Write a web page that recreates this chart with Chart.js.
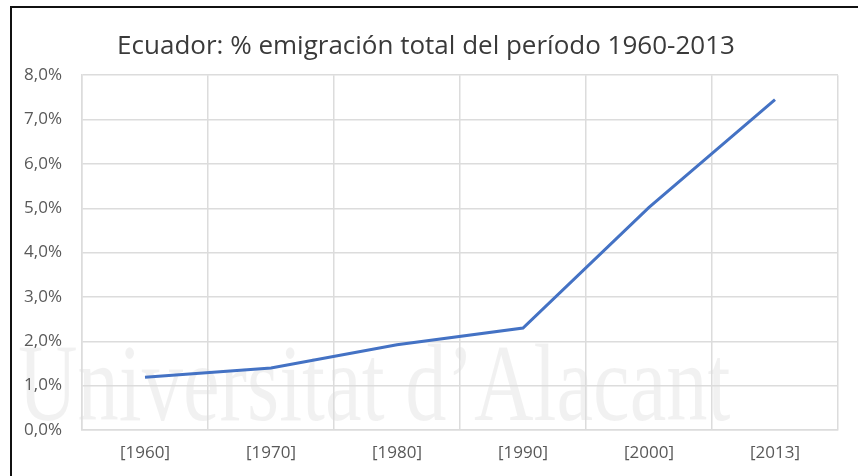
<!DOCTYPE html>
<html>
<head>
<meta charset="utf-8">
<script src="https://cdn.jsdelivr.net/npm/chart.js@4.4.1/dist/chart.umd.min.js"></script>
<style>
  html, body { margin: 0; padding: 0; background: #ffffff; }
  #wrap { position: relative; width: 858px; height: 476px; overflow: hidden; }
  #wm { position: absolute; left: 18px; top: 318px; font-family: "Liberation Serif", "DejaVu Serif", serif;
        font-size: 110px; line-height: 130px; color: rgba(0,0,0,0.055); white-space: nowrap;
        transform: scaleX(0.75); transform-origin: 0 0; }
  #frame { position: absolute; left: 10px; top: 6px; width: 900px; height: 500px;
           border-left: 2px solid #111; border-top: 2px solid #111; pointer-events: none; }
  canvas { position: absolute; left: 0; top: 0; }
</style>
</head>
<body>
<div id="wrap">
  <div id="wm">Universitat d’Alacant</div>
  <canvas id="c" width="858" height="476"></canvas>
  <div id="frame"></div>
</div>
<script>
const titleText = "Ecuador: % emigración total del período 1960-2013";
const categories = ["[1960]", "[1970]", "[1980]", "[1990]", "[2000]", "[2013]"];
const emigrationPct = [1.19, 1.40, 1.92, 2.30, 5.02, 7.45];
const yTicks = [0, 1, 2, 3, 4, 5, 6, 7, 8];

const gridColor = "#dcdcdc";
const labelColor = "#595959";
const fontFamily = "'Open Sans', 'Noto Sans', sans-serif";

new Chart(document.getElementById("c"), {
  type: "line",
  data: {
    labels: categories,
    datasets: [{
      data: emigrationPct,
      borderColor: "#4472C4",
      borderWidth: 3,
      pointRadius: 0,
      tension: 0,
      fill: false
    }]
  },
  options: {
    responsive: false,
    animation: false,
    devicePixelRatio: 1,
    layout: { padding: { left: 14, right: 20, top: 0, bottom: 0 } },
    plugins: {
      legend: { display: false },
      tooltip: { enabled: false },
      title: {
        display: true,
        text: titleText,
        color: "#3a3a3a",
        font: { family: fontFamily, size: 26, weight: "normal" },
        padding: { top: 31, bottom: 13 }
      }
    },
    scales: {
      x: {
        offset: true,
        grid: { display: true, offset: true, color: gridColor, lineWidth: 1.5, drawTicks: false },
        border: { display: true, color: gridColor, width: 1.5 },
        ticks: { color: labelColor, padding: 13, font: { family: fontFamily, size: 17 } },
        afterFit: (s) => { s.height = 46; }
      },
      y: {
        min: 0,
        max: 8,
        afterBuildTicks: (s) => { s.ticks = yTicks.map(v => ({ value: v })); },
        grid: { color: gridColor, lineWidth: 1.5, drawTicks: false },
        border: { display: true, color: gridColor, width: 1.5 },
        ticks: {
          color: labelColor,
          padding: 20,
          font: { family: fontFamily, size: 17 },
          callback: (v) => v.toFixed(1).replace(".", ",") + "%"
        },
        afterFit: (s) => { s.width = 68; }
      }
    }
  }
});
</script>
</body>
</html>
